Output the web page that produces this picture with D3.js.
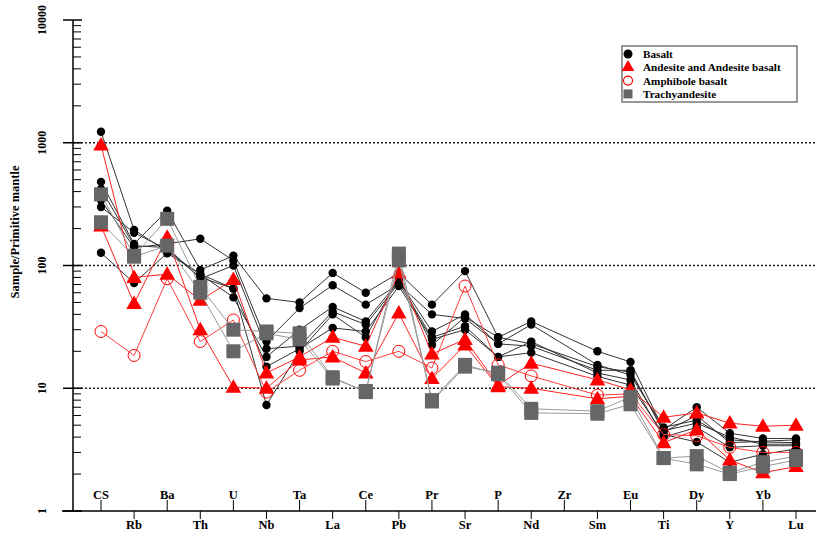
<!DOCTYPE html>
<html>
<head>
<meta charset="utf-8">
<script src="https://cdn.jsdelivr.net/npm/d3@7"></script>
<style>
  body { margin: 0; background: #fff; }
  text { font-family: "Liberation Serif", "Times New Roman", serif; font-weight: bold; }
</style>
</head>
<body>
<div id="chart"></div>
<script>
// Elements in plot order (Zr has no measurements, lines skip it).
var elements = ["CS", "Rb", "Ba", "Th", "U", "Nb", "Ta", "La", "Ce", "Pb", "Pr", "Sr", "P", "Nd", "Zr", "Sm", "Eu", "Ti", "Dy", "Y", "Yb", "Lu"];
var yTicks = [1, 10, 100, 1000, 10000];

// Values normalised to primitive mantle, one row per sample.
var basalt = [
	[1230, 195, 130, 85, 55, 18, 30, 46, 35, 75, 29, 40, 23, 33, null, 15.5, 12.8, 4.8, 5.5, 3.8, 3.65, 3.6],
	[480, 150, 280, 92, 120, 54, 50, 87, 60, 87, 48, 90, 26, 35, null, 20, 16.4, 4.6, 7.0, 4.3, 3.9, 3.9],
	[340, 140, 150, 165, 110, 24, 45, 69, 48, 70, 40, 37, 23, 22, null, 14, 14, 4.4, 6.0, 3.6, 3.7, 3.8],
	[420, 145, 140, 78, 100, 21, 22, 42, 33, 72, 26, 32, 18, 24, null, 13.3, 11.7, 4.0, 4.8, 3.3, 3.4, 3.4],
	[127, 72, 126, 85, 65, 15, 21, 31, 29, 68, 25, 30, 18, 19.5, null, 12.5, 10.6, 4.2, 3.65, 2.5, 2.9, 3.2],
	[300, 185, 135, 80, 65, 7.3, 20, 40, 26, 80, 22.5, 38, 26, 23, null, 15, 13.5, 4.5, 5.2, 4.0, 3.5, 3.5]
];
var andesite = [
	[960, 80, 85, 52, 77, 13.3, 18, 26, 22, 87, 19, 25, 10.6, 16, null, 11.7, 9.7, 5.8, 6.3, 5.2, 4.9, 5.0],
	[210, 49, 170, 30, 10.2, 10, 17, 18, 13.3, 41, 12, 22.5, 10.3, 10, null, 8.2, 8.6, 3.6, 4.6, 2.6, 2.05, 2.3]
];
var amphibole = [
	[29, 18.5, 78, 24, 36, 9.3, 14, 20, 16.5, 20, 14.6, 68, 15.5, 12.6, null, 8.8, 9.0, 4.2, 4.1, 3.3, 3.0, 3.0]
];
var trachy = [
	[380, 120, 240, 67, 30, 29, 28, 12.3, 9.3, 125, 7.8, 15, 13.4, 6.8, null, 6.5, 8.5, 2.7, 2.8, 2.05, 2.5, 2.8],
	[225, 118, 145, 60, 20, 28, 25, 12, 9.5, 110, 8, 15.5, 13, 6.3, null, 6.2, 7.4, 2.7, 2.4, 2.0, 2.3, 2.6]
];
var legendLabels = ["Basalt", "Andesite and Andesite basalt", "Amphibole basalt", "Trachyandesite"];

var width = 816;
var height = 534;

var svg = d3.select("#chart").append("svg")
		.attr("width", width)
		.attr("height", height);

var x = d3.scalePoint()
		.domain(elements)
		.range([101, 796]);

var y = d3.scaleLog()
		.domain([1, 10000])
		.range([511, 20]);

// dotted reference lines
svg.selectAll(".grid")
		.data([10, 100, 1000])
		.enter().append("line")
		.attr("x1", 73)
		.attr("x2", width)
		.attr("y1", function(d) { return y(d); })
		.attr("y2", function(d) { return y(d); })
		.attr("stroke", "#222")
		.attr("stroke-width", 1.5)
		.attr("stroke-dasharray", "2,2");

// y axis with log minor ticks
var minor = [];
yTicks.slice(0, -1).forEach(function(t) {
	for (var k = 2; k < 10; k++) minor.push(t * k);
});

svg.append("line")
		.attr("x1", 73).attr("x2", 73)
		.attr("y1", y(10000)).attr("y2", y(1))
		.attr("stroke", "#000").attr("stroke-width", 1.5);

svg.selectAll(".minor")
		.data(minor)
		.enter().append("line")
		.attr("x1", 73).attr("x2", 81)
		.attr("y1", function(d) { return y(d); })
		.attr("y2", function(d) { return y(d); })
		.attr("stroke", "#000");

svg.selectAll(".major")
		.data(yTicks)
		.enter().append("line")
		.attr("x1", 63).attr("x2", 82)
		.attr("y1", function(d) { return y(d); })
		.attr("y2", function(d) { return y(d); })
		.attr("stroke", "#000").attr("stroke-width", 1.5);

svg.selectAll(".ylab")
		.data(yTicks)
		.enter().append("text")
		.attr("transform", function(d) { return "translate(46," + y(d) + ") rotate(-90)"; })
		.attr("text-anchor", "middle")
		.style("font-size", "12px")
		.text(function(d) { return d; });

svg.append("text")
		.attr("transform", "translate(19,232) rotate(-90)")
		.attr("text-anchor", "middle")
		.style("font-size", "12.5px")
		.text("Sample/Primitive mantle");

// x axis, labels alternate above / below
svg.append("line")
		.attr("x1", 62).attr("x2", width)
		.attr("y1", 511).attr("y2", 511)
		.attr("stroke", "#000").attr("stroke-width", 1.5);

svg.selectAll(".xtick")
		.data(elements)
		.enter().append("line")
		.attr("x1", function(d) { return x(d); })
		.attr("x2", function(d) { return x(d); })
		.attr("y1", 511)
		.attr("y2", function(d, i) { return i % 2 ? 519 : 500; })
		.attr("stroke", "#000");

svg.selectAll(".xlab")
		.data(elements)
		.enter().append("text")
		.attr("x", function(d) { return x(d); })
		.attr("y", function(d, i) { return i % 2 ? 529 : 499; })
		.attr("text-anchor", "middle")
		.style("font-size", "12.5px")
		.text(function(d) { return d; });

var line = d3.line()
		.x(function(d) { return x(d.el); })
		.y(function(d) { return y(d.v); });

function points(row) {
	return row.map(function(v, i) { return {el: elements[i], v: v}; })
			.filter(function(d) { return d.v != null; });
}

var triangle = d3.symbol().type(d3.symbolTriangle).size(105);

function drawGroup(rows, lineColor, marker) {
	var g = svg.append("g");
	rows.forEach(function(row) {
		g.append("path")
				.attr("d", line(points(row)))
				.attr("fill", "none")
				.attr("stroke", lineColor)
				.attr("stroke-width", 1);
	});
	rows.forEach(function(row) {
		points(row).forEach(function(p) {
			marker(g, x(p.el), y(p.v));
		});
	});
}

function dot(g, cx, cy) {
	g.append("circle").attr("cx", cx).attr("cy", cy).attr("r", 4.2).attr("fill", "#000");
}
function ring(g, cx, cy) {
	g.append("circle").attr("cx", cx).attr("cy", cy).attr("r", 6)
			.attr("fill", "none").attr("stroke", "#ff0000").attr("stroke-width", 1);
}
function tri(g, cx, cy) {
	g.append("path").attr("d", triangle).attr("transform", "translate(" + cx + "," + (cy + 1) + ")")
			.attr("fill", "#ff0000");
}
function square(g, cx, cy) {
	g.append("rect").attr("x", cx - 7).attr("y", cy - 7).attr("width", 14).attr("height", 14)
			.attr("fill", "#666");
}

drawGroup(basalt, "#333", dot);
drawGroup(amphibole, "#ff4040", ring);
drawGroup(andesite, "#ff2020", tri);
drawGroup(trachy, "#999", square);

// legend
var legend = svg.append("g");
legend.append("rect")
		.attr("x", 622).attr("y", 46)
		.attr("width", 175).attr("height", 56)
		.attr("fill", "#fff")
		.attr("stroke", "#777")
		.attr("stroke-width", 1.5);

var markers = [
	function(cx, cy) { legend.append("circle").attr("cx", cx).attr("cy", cy).attr("r", 4.5).attr("fill", "#000"); },
	function(cx, cy) { legend.append("path").attr("d", d3.symbol().type(d3.symbolTriangle).size(70)).attr("transform", "translate(" + cx + "," + cy + ")").attr("fill", "#ff0000"); },
	function(cx, cy) { legend.append("circle").attr("cx", cx).attr("cy", cy).attr("r", 4.5).attr("fill", "none").attr("stroke", "#ff0000").attr("stroke-width", 1.2); },
	function(cx, cy) { legend.append("rect").attr("x", cx - 4.5).attr("y", cy - 4.5).attr("width", 9).attr("height", 9).attr("fill", "#666"); }
];

legendLabels.forEach(function(label, i) {
	var ly = 54 + i * 13.3;
	markers[i](628, ly);
	legend.append("text")
			.attr("x", 643)
			.attr("y", ly + 4)
			.style("font-size", "11.2px")
			.text(label);
});
</script>
</body>
</html>
